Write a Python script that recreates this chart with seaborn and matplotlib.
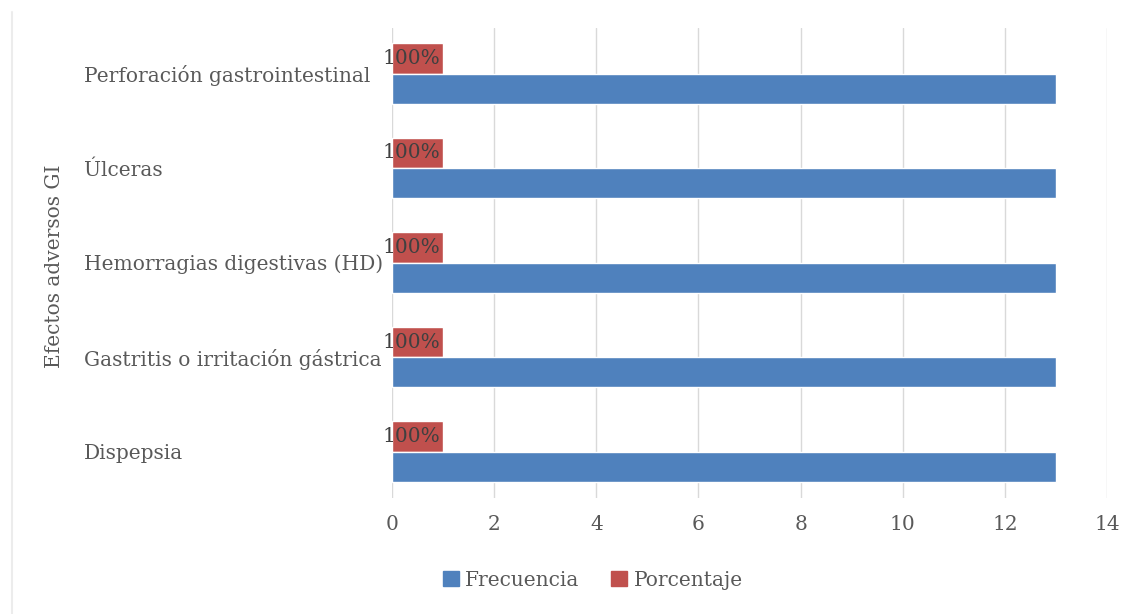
import numpy as np
import pandas as pd
import matplotlib.pyplot as plt
import seaborn as sns
from matplotlib.lines import Line2D
from matplotlib.patches import Patch


# Data (top to bottom as shown):

efectos = ['Perforación gastrointestinal', 'Úlceras', 'Hemorragias digestivas (HD)',
           'Gastritis o irritación gástrica', 'Dispepsia']
frecuencia = [13, 13, 13, 13, 13]
porcentaje = [1, 1, 1, 1, 1]
porcentaje_txt = ['100%', '100%', '100%', '100%', '100%']
x_ticks = [0, 2, 4, 6, 8, 10, 12, 14]

df = pd.DataFrame({
    'efecto': efectos * 2,
    'serie': ['Porcentaje'] * len(efectos) + ['Frecuencia'] * len(efectos),
    'valor': porcentaje + frecuencia,
})

azul = '#4f81bd'
rojo = '#c0504d'
gris = '#595959'

sns.set_style('white')
plt.rcParams['font.family'] = ['DejaVu Serif']

fig = plt.figure(figsize=(11.31, 6.14), dpi=100)
ax = fig.add_axes([0.3466, 0.189, 0.6322, 0.765])

sns.barplot(data=df, y='efecto', x='valor', hue='serie', order=efectos,
            hue_order=['Porcentaje', 'Frecuencia'],
            palette={'Porcentaje': rojo, 'Frecuencia': azul},
            orient='h', width=0.64, saturation=1, legend=False, ax=ax)

# Percentage labels at the end of the red bars
for patch, txt in zip(ax.containers[0], porcentaje_txt):
    y = patch.get_y() + patch.get_height() / 2
    ax.annotate(txt, xy=(patch.get_width(), y), xytext=(-2, 0),
                textcoords='offset points', ha='right', va='center',
                fontsize=14.5, color='#404040')

ax.set_xlim(0, 14)
ax.set_xticks(x_ticks)
ax.set_ylim(4.49, -0.48)
ax.grid(axis='x', color='#d9d9d9', linewidth=1)
ax.set_axisbelow(True)
for s in ax.spines.values():
    s.set_visible(False)

ax.tick_params(axis='x', length=0, pad=12, labelsize=14.5, labelcolor=gris)
ax.tick_params(axis='y', length=0, pad=222, labelsize=14.5, labelcolor=gris)
for lab in ax.get_yticklabels():
    lab.set_horizontalalignment('left')

ax.set_xlabel('')
ax.set_ylabel('')
fig.text(0.0486, 0.567, 'Efectos adversos GI', rotation=90, ha='center', va='center',
         fontsize=14.5, color=gris)

handles = [Patch(color=azul, label='Frecuencia'), Patch(color=rojo, label='Porcentaje')]
fig.legend(handles=handles, loc='center', bbox_to_anchor=(0.524, 0.055), ncol=2,
           frameon=False, fontsize=14.5, labelcolor=gris, handlelength=0.8,
           handleheight=0.8, handletextpad=0.3, columnspacing=1.6)

fig.add_artist(Line2D([0.0106, 0.0106], [0.0, 0.98], color='#ececec', linewidth=1.5))

plt.savefig('out.png', dpi=100)
